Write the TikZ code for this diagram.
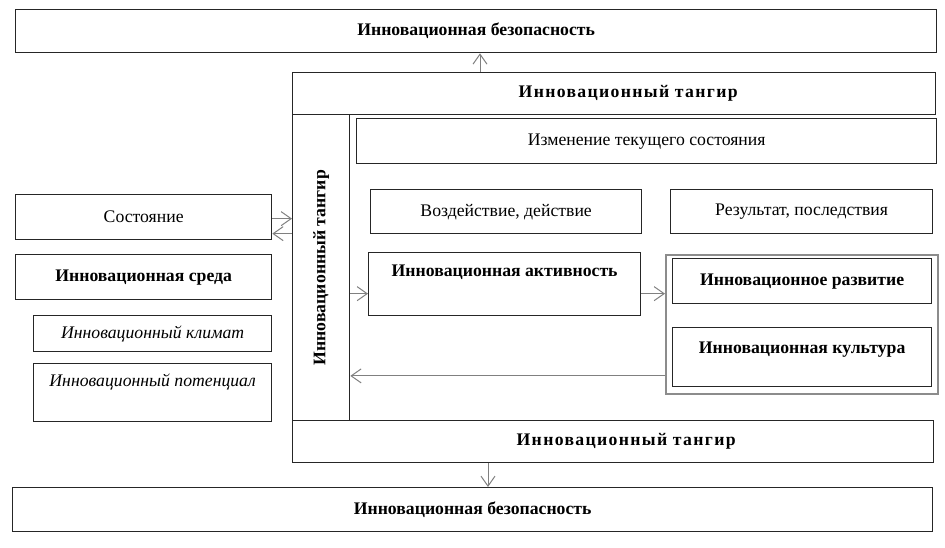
\documentclass[tikz,border=0pt]{standalone}
\usepackage{fontspec}
\setmainfont{Liberation Serif}
\newfontfamily\spacedfont[LetterSpace=7.5]{Liberation Serif}
\usetikzlibrary{arrows.meta,positioning}

\begin{document}
\begin{tikzpicture}[
  x=1pt, y=-1pt,
  box/.style={draw=black!85, line width=1.3pt, inner sep=0pt, anchor=north west, align=center, font=\fontsize{17.7}{21}\selectfont},
  hd/.style={box, font=\fontsize{17.7}{21}\selectfont\bfseries},
  band/.style={box, font=\fontsize{17.7}{21}\spacedfont\bfseries},
  it/.style={box, font=\fontsize{17.7}{21}\selectfont\itshape},
  grp/.style={draw=black!45, line width=1.8pt, inner sep=0pt, anchor=north west},
  arr/.style={-{Straight Barb[length=10pt,width=14pt]}, draw=black!50, line width=1pt}
]
\useasboundingbox (0,0) rectangle (945,547);

% top and bottom
\node[hd, minimum width=921pt, minimum height=43pt] (secTop) at (15,9) {Инновационная безопасность};
\node[hd, minimum width=920pt, minimum height=44pt] (secBot) at (12,487) {Инновационная безопасность};

% frame of the tangir
\node[band, minimum width=643pt, minimum height=42pt] (tangTop) at (292,72) {\hspace*{28pt}Инновационный тангир};
\node[band, minimum width=641pt, minimum height=42pt] (tangBot) at (292,420) {\hspace*{26pt}Инновационный тангир};
\node[hd, minimum width=57pt, minimum height=306pt] (tangLeft) at (292,114) {\rotatebox{90}{Инновационный тангир}};

% inside
\node[box, minimum width=580pt, minimum height=45pt] (change) at (356,118) {Изменение текущего состояния};
\node[box, minimum width=271pt, minimum height=44pt] (impact) at (370,189) {Воздействие, действие};
\node[box, minimum width=262pt, minimum height=44pt] (result) at (670,189) {Результат, последствия};
\node[hd, minimum width=272pt, text height=24pt, text depth=39pt] (act) at (368,252) {Инновационная активность};

\node[grp, minimum width=272pt, minimum height=139pt] (grp) at (665,254) {};
\node[hd, minimum width=259pt, minimum height=45pt] (devel) at (672,258) {Инновационное развитие};
\node[hd, minimum width=259pt, text height=26pt, text depth=33pt] (cult) at (672,327) {Инновационная культура};

% left column
\node[box, minimum width=256pt, minimum height=45pt] (state) at (15,194) {Состояние};
\node[hd, minimum width=256pt, minimum height=45pt] (env) at (15,254) {Инновационная среда};
\node[it, minimum width=238pt, minimum height=36pt] (clim) at (33,315) {Инновационный климат};
\node[it, minimum width=238pt, text height=23pt, text depth=35pt] (pot) at (33,363) {Инновационный потенциал};

% arrows
\coordinate (upx) at (480,0);
\coordinate (dnx) at (488,0);
\draw[arr] (upx |- tangTop.north) -- (upx |- secTop.south);
\draw[arr] (dnx |- tangBot.south) -- (dnx |- secBot.north);

\coordinate (s1) at ([yshift=-1.5pt]state.east);
\coordinate (s2) at ([yshift=-16.5pt]state.east);
\draw[arr] (s1) -- (s1 -| tangLeft.west);
\draw[arr] (s2 -| tangLeft.west) -- (s2);

\coordinate (a1) at ([yshift=-9.5pt]act.west);
\coordinate (a2) at ([yshift=-9.5pt]act.east);
\draw[arr] (a1 -| tangLeft.east) -- (a1);
\draw[arr] (a2) -- (a2 -| grp.west);

\coordinate (back) at ([yshift=-51.5pt]grp.west);
\draw[arr] (back) -- (back -| tangLeft.east);

\end{tikzpicture}
\end{document}
